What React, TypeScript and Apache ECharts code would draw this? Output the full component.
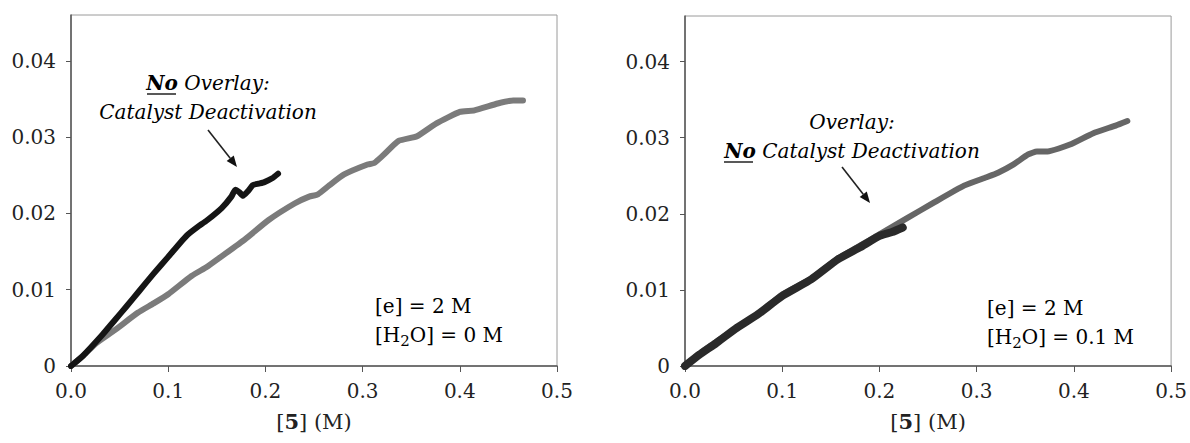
import React, { useEffect, useRef } from "react";
import * as echarts from "echarts";

// ---- data ----
const xTicks = [0, 0.1, 0.2, 0.3, 0.4, 0.5];
const yTicks = [0, 0.01, 0.02, 0.03, 0.04];

// Left panel: [H2O] = 0 M
const leftNoOverlayRun: [number, number][] = [
  [0, 0], [0.012, 0.0013], [0.033, 0.0042], [0.045, 0.006], [0.057, 0.0078],
  [0.07, 0.0098], [0.085, 0.0121], [0.1, 0.0143], [0.112, 0.0161], [0.12, 0.0172],
  [0.13, 0.0182], [0.14, 0.0191], [0.155, 0.0207], [0.165, 0.0222], [0.169, 0.0231],
  [0.173, 0.0228], [0.177, 0.0223], [0.182, 0.0229], [0.187, 0.0237], [0.193, 0.0239],
  [0.199, 0.0241], [0.207, 0.0246], [0.213, 0.0252],
];
const leftReferenceRun: [number, number][] = [
  [0, 0], [0.013, 0.0014], [0.026, 0.003], [0.045, 0.0047], [0.069, 0.007],
  [0.085, 0.0082], [0.1, 0.0094], [0.124, 0.0118], [0.14, 0.013], [0.152, 0.0141],
  [0.179, 0.0166], [0.203, 0.0191], [0.23, 0.0213], [0.245, 0.0222], [0.254, 0.0225],
  [0.266, 0.0237], [0.281, 0.0251], [0.305, 0.0264], [0.312, 0.0266], [0.321, 0.0276],
  [0.337, 0.0295], [0.356, 0.0301], [0.376, 0.0318], [0.4, 0.0333], [0.415, 0.0335],
  [0.439, 0.0344], [0.455, 0.0348], [0.465, 0.0348],
];

// Right panel: [H2O] = 0.1 M
const rightOverlayRun: [number, number][] = [
  [0, 0], [0.015, 0.0015], [0.032, 0.003], [0.052, 0.0049], [0.075, 0.0068],
  [0.1, 0.0092], [0.13, 0.0114], [0.157, 0.014], [0.18, 0.0156], [0.2, 0.0171],
  [0.213, 0.0176], [0.224, 0.0182],
];
const rightReferenceRun: [number, number][] = [
  [0, 0], [0.02, 0.0021], [0.052, 0.0049], [0.075, 0.0068], [0.1, 0.0094],
  [0.13, 0.0115], [0.157, 0.0141], [0.2, 0.0173], [0.228, 0.0194], [0.255, 0.0214],
  [0.287, 0.0237], [0.31, 0.0248], [0.322, 0.0254], [0.338, 0.0265], [0.353, 0.0278],
  [0.362, 0.0282], [0.373, 0.0282], [0.396, 0.0291], [0.42, 0.0306], [0.443, 0.0316],
  [0.455, 0.0322],
];

const SERIF = "DejaVu Serif";
const TEXT = "#222";

function arrow(x1: number, y1: number, x2: number, y2: number) {
  const dx = x2 - x1, dy = y2 - y1;
  const len = Math.hypot(dx, dy);
  const ux = dx / len, uy = dy / len;
  const hl = 11, hw = 4.5;
  const bx = x2 - ux * hl, by = y2 - uy * hl;
  return [
    { type: "line", shape: { x1, y1, x2: bx, y2: by }, style: { stroke: "#222", lineWidth: 1.6 } },
    {
      type: "polygon",
      shape: { points: [[x2, y2], [bx - uy * hw, by + ux * hw], [bx + uy * hw, by - ux * hw]] },
      style: { fill: "#111" },
    },
  ];
}

function makeAxes(gridIndex: number) {
  const axisLine = { lineStyle: { color: "#555", width: 1.5 } };
  return {
    x: {
      type: "value", gridIndex, min: 0, max: 0.5, interval: 0.1,
      axisLine, axisTick: { show: true, length: 6, lineStyle: { color: "#555" } },
      splitLine: { show: false },
      axisLabel: {
        margin: 15, color: TEXT, fontFamily: SERIF, fontSize: 20,
        formatter: (v: number) => v.toFixed(1), customValues: xTicks,
      },
      name: "[{b|5}] (M)", nameLocation: "middle", nameGap: 45,
      nameTextStyle: {
        color: TEXT, fontFamily: SERIF, fontSize: 21,
        rich: { b: { fontWeight: "bold", fontFamily: SERIF, fontSize: 21, color: TEXT } },
      },
    },
    y: {
      type: "value", gridIndex, min: 0, max: 0.046, interval: 0.01,
      axisLine, axisTick: { show: true, length: 5, lineStyle: { color: "#555" }, customValues: yTicks },
      splitLine: { show: false },
      axisLabel: {
        margin: 15, color: TEXT, fontFamily: SERIF, fontSize: 20,
        formatter: (v: number) => (v === 0 ? "0" : v.toFixed(2)), customValues: yTicks,
      },
    },
  };
}

function legendTexts(x: number, y: number, water: string) {
  const base = { fontFamily: SERIF, fontSize: 20, color: TEXT, lineHeight: 24, verticalAlign: "middle" };
  return [
    {
      type: "text", x, y,
      style: {
        text: "{n|[e] = 2 M}", rich: { n: base },
        textVerticalAlign: "middle", verticalAlign: "middle",
      },
    },
    {
      type: "text", x, y: y + 29,
      style: {
        text: `{n|[H}{s|2}{n|O] = ${water}}`,
        rich: {
          n: base,
          s: { fontFamily: SERIF, fontSize: 15, color: TEXT, padding: [12, 0, 0, 0] },
        },
        textVerticalAlign: "middle", verticalAlign: "middle",
      },
    },
  ];
}

function annotation(cx: number, y1: number, y2: number, line1: string, line2: string) {
  const it = { fontFamily: SERIF, fontSize: 20, fontStyle: "italic", color: "#3a3a3a" };
  const nb = { fontFamily: SERIF, fontSize: 20, fontStyle: "italic", fontWeight: "bold", color: "#222" };
  return [
    {
      type: "text", x: cx, y: y1,
      style: { text: line1, rich: { it, nb }, textAlign: "center", align: "center", textVerticalAlign: "middle", verticalAlign: "middle" },
    },
    {
      type: "text", x: cx, y: y2,
      style: { text: line2, rich: { it, nb }, textAlign: "center", align: "center", textVerticalAlign: "middle", verticalAlign: "middle" },
    },
  ];
}

export default function App() {
  const ref = useRef<HTMLDivElement>(null);
  useEffect(() => {
    if (!ref.current) return;
    const chart = echarts.init(ref.current, null, { renderer: "svg" });
    const a0 = makeAxes(0);
    const a1 = makeAxes(1);
    const lineCommon = {
      type: "line", showSymbol: false, symbol: "none", smooth: 0.15,
      emphasis: { disabled: true }, silent: true,
    };
    chart.setOption({
      animation: false,
      backgroundColor: "#fff",
      grid: [
        { left: 71, top: 15, width: 486, height: 351, show: true, borderColor: "#9a9a9a", borderWidth: 1 },
        { left: 685, top: 16, width: 488, height: 350, show: true, borderColor: "#9a9a9a", borderWidth: 1 },
      ],
      xAxis: [a0.x, a1.x],
      yAxis: [a0.y, a1.y],
      series: [
        { ...lineCommon, name: "Reference (left)", xAxisIndex: 0, yAxisIndex: 0, data: leftReferenceRun,
          lineStyle: { color: "#7b7b7b", width: 6, cap: "round", join: "round" } },
        { ...lineCommon, name: "No overlay", xAxisIndex: 0, yAxisIndex: 0, data: leftNoOverlayRun,
          lineStyle: { color: "#151515", width: 6, cap: "round", join: "round" } },
        { ...lineCommon, name: "Reference (right)", xAxisIndex: 1, yAxisIndex: 1, data: rightReferenceRun,
          lineStyle: { color: "#666", width: 6, cap: "round", join: "round" } },
        { ...lineCommon, name: "Overlay", xAxisIndex: 1, yAxisIndex: 1, data: rightOverlayRun,
          lineStyle: { color: "#2a2a2a", width: 8, cap: "round", join: "round" } },
      ],
      graphic: [
        ...annotation(208, 83, 112, "{nb|No}{it| Overlay:}", "{it|Catalyst Deactivation}"),
        { type: "line", shape: { x1: 147, y1: 94, x2: 176, y2: 94 }, style: { stroke: "#222", lineWidth: 1.5 } },
        ...arrow(208, 130, 237, 167),
        ...annotation(852, 122, 151, "{it|Overlay:}", "{nb|No}{it| Catalyst Deactivation}"),
        { type: "line", shape: { x1: 724, y1: 162, x2: 753, y2: 162 }, style: { stroke: "#222", lineWidth: 1.5 } },
        ...arrow(842, 167, 870, 203),
        ...legendTexts(375, 306, "0 M"),
        ...legendTexts(987, 308, "0.1 M"),
      ],
    });
    return () => chart.dispose();
  }, []);
  return (
    <div
      ref={ref}
      style={{ position: "fixed", left: 0, top: 0, width: 1190, height: 443 }}
    />
  );
}
